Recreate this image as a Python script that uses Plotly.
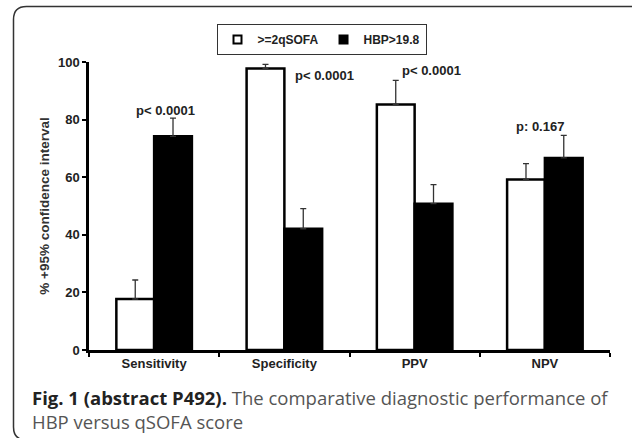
import plotly.graph_objects as go

categories = ["Sensitivity", "Specificity", "PPV", "NPV"]
qsofa_values = [17.7, 97.7, 85.2, 59.2]
qsofa_upper_ci = [24.3, 99.2, 93.6, 64.7]
hbp_values = [74.2, 42.1, 50.8, 66.7]
hbp_upper_ci = [80.5, 49.1, 57.4, 74.5]
p_labels = ["p< 0.0001", "p< 0.0001", "p< 0.0001", "p: 0.167"]
p_label_y = [83.2, 95.4, 97.1, 77.7]
p_label_shift = [11, 40, 17, -5]
y_ticks = [0, 20, 40, 60, 80, 100]

W, H = 632, 438
L, R, T, B = 89, 22, 62, 88
pw, ph = W - L - R, H - T - B


def px(x):
    return (x - L) / pw


def py(y):
    return (H - B - y) / ph


AX_FONT = dict(family="Arial, Liberation Sans, sans-serif", size=13, color="#222", weight="bold")

fig = go.Figure()
fig.add_trace(go.Bar(
    x=categories, y=qsofa_values, name=">=2qSOFA", showlegend=False,
    marker=dict(color="white", line=dict(color="black", width=2.5)),
    error_y=dict(type="data", symmetric=False,
                 array=[u - v for u, v in zip(qsofa_upper_ci, qsofa_values)],
                 arrayminus=[0] * len(qsofa_values),
                 color="#333", thickness=1.3, width=3),
))
fig.add_trace(go.Bar(
    x=categories, y=hbp_values, name="HBP>19.8", showlegend=False,
    marker=dict(color="black", line=dict(color="black", width=2.5)),
    error_y=dict(type="data", symmetric=False,
                 array=[u - v for u, v in zip(hbp_upper_ci, hbp_values)],
                 arrayminus=[0] * len(hbp_values),
                 color="#333", thickness=1.3, width=3),
))
# legend entries
fig.add_trace(go.Scatter(x=[None], y=[None], mode="markers", name=">=2qSOFA",
                         marker=dict(symbol="square", size=8, color="white",
                                     line=dict(color="black", width=2))))
fig.add_trace(go.Scatter(x=[None], y=[None], mode="markers", name="HBP>19.8",
                         marker=dict(symbol="square", size=8, color="black",
                                     line=dict(color="black", width=2))))

for cat, txt, yv, sh in zip(categories, p_labels, p_label_y, p_label_shift):
    fig.add_annotation(x=cat, y=yv, text=txt, showarrow=False, xshift=sh,
                       font=AX_FONT, xanchor="center", yanchor="middle")

# caption
fig.add_annotation(
    xref="paper", yref="paper", x=px(30), y=py(397), xanchor="left", yanchor="middle",
    text="<b>Fig. 1 (abstract P492).</b><span style='color:#555'> The comparative diagnostic performance of</span>",
    showarrow=False, align="left",
    font=dict(family="Open Sans, Noto Sans, sans-serif", size=18.5, color="#222"))
fig.add_annotation(
    xref="paper", yref="paper", x=px(30), y=py(421), xanchor="left", yanchor="middle",
    text="HBP versus qSOFA score", showarrow=False, align="left",
    font=dict(family="Open Sans, Noto Sans, sans-serif", size=18.5, color="#555"))

# rounded outer frame
l_, t_, r_, b_, rad = 13.5, 6.5, 644, 440, 13
path = (f"M {px(l_)},{py(t_ + rad)} Q {px(l_)},{py(t_)} {px(l_ + rad)},{py(t_)} "
        f"L {px(r_ - rad)},{py(t_)} Q {px(r_)},{py(t_)} {px(r_)},{py(t_ + rad)} "
        f"L {px(r_)},{py(b_ - rad)} Q {px(r_)},{py(b_)} {px(r_ - rad)},{py(b_)} "
        f"L {px(l_ + rad)},{py(b_)} Q {px(l_)},{py(b_)} {px(l_)},{py(b_ - rad)} Z")
fig.add_shape(type="path", xref="paper", yref="paper", path=path,
              line=dict(color="#333", width=1.5), layer="below")

fig.update_layout(
    width=W, height=H,
    margin=dict(l=L, r=R, t=T, b=B),
    paper_bgcolor="white", plot_bgcolor="white",
    barmode="group", bargap=0.42, bargroupgap=0,
    showlegend=True,
    legend=dict(orientation="h", x=px(321.5), y=py(24), xanchor="center", yanchor="top",
                bordercolor="#333", borderwidth=1, bgcolor="white",
                font=dict(family="Arial, Liberation Sans, sans-serif", size=12,
                          color="#222", weight="bold"),
                itemwidth=30, tracegroupgap=0),
    xaxis=dict(range=[-0.5, 3.5], showline=True, linecolor="black", linewidth=2.5,
               ticks="outside", tickson="boundaries", ticklen=4, tickwidth=2,
               tickcolor="black", tickfont=AX_FONT, showgrid=False, zeroline=False),
    yaxis=dict(range=[0, 100], tickvals=y_ticks, showline=True, linecolor="black",
               linewidth=2.5, ticks="outside", ticklen=4, tickwidth=2, tickcolor="black",
               tickfont=AX_FONT, showgrid=False, zeroline=False,
               title=dict(text="% +95% confidence interval", standoff=6,
                          font=dict(family="Arial, Liberation Sans, sans-serif", size=13.5,
                                    color="#333", weight="bold"))),
)

fig.write_html("out.html", config={"displayModeBar": False},
               post_script="document.body.style.margin='0';document.body.style.overflow='hidden';")
